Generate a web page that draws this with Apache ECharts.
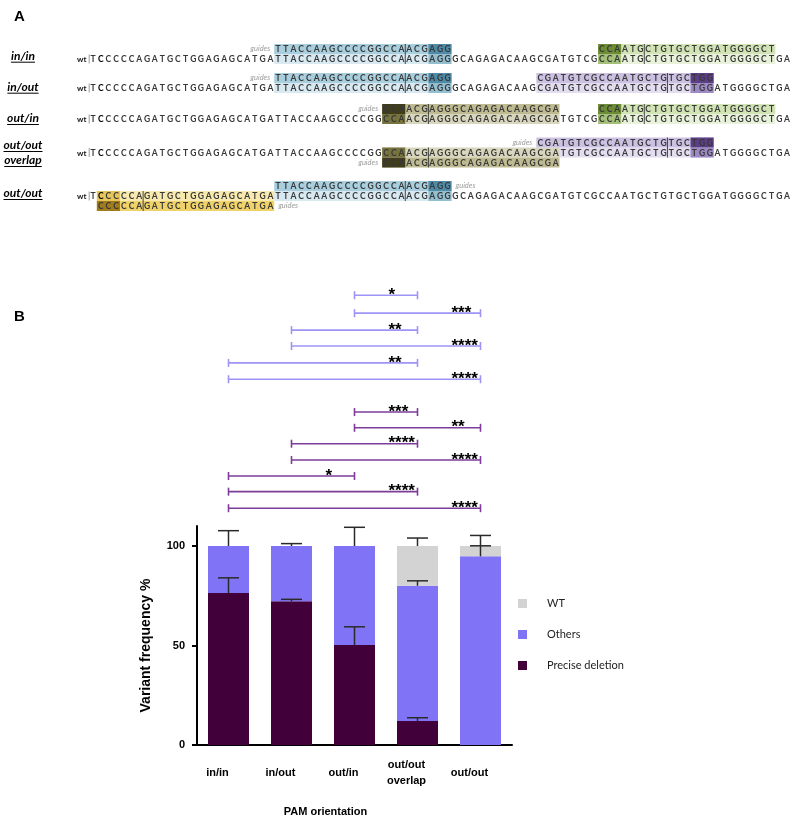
<!DOCTYPE html>
<html><head><meta charset="utf-8">
<script src="https://cdn.jsdelivr.net/npm/echarts@6/dist/echarts.min.js"></script>
<style>html,body{margin:0;padding:0;background:#fff}#chart{width:794px;height:817px}</style>
</head><body><div id="chart"></div>
<script>
// ---------------- Panel B data ----------------
const categories = ['in/in', 'in/out', 'out/in', 'out/out\noverlap', 'out/out'];
const preciseDeletion = [76.4, 72.2, 50.3, 12.1, 0];
const others = [23.6, 27.8, 49.7, 67.9, 94.8];
const wtVariant = [0, 0, 0, 20, 5.2];
const preciseSD = [7.6, 1.0, 9.1, 1.6, 0];
const othersSD = [7.7, 1.2, 9.4, 2.5, 5.3];
const wtSD = [0, 0, 0, 4.0, 5.3];
const yTicks = [0, 50, 100];

// significance comparisons (category index pairs), stars and bracket level (in % units)
const sigFrom = [2, 2, 1, 1, 0, 0, 2, 2, 1, 1, 0, 0, 0];
const sigTo = [3, 4, 3, 4, 3, 4, 3, 4, 3, 4, 2, 3, 4];
const sigStars = ['*', '***', '**', '****', '**', '****', '***', '**', '****', '****', '*', '****', '****'];
const sigLevel = [226, 217, 208.5, 200.5, 192, 183.8, 167.3, 159.4, 151.4, 143.2, 135.2, 127.3, 119];
const sigSeries = ['Others', 'Others', 'Others', 'Others', 'Others', 'Others',
  'Precise deletion', 'Precise deletion', 'Precise deletion', 'Precise deletion', 'Precise deletion', 'Precise deletion', 'Precise deletion'];

// ---------------- Panel A data ----------------
const wtSequence = 'TCCCCCAGATGCTGGAGAGCATGATTACCAAGCCCCGGCCAACGAGGGCAGAGACAAGCGATGTCGCCAATGCTGTGCTGGATGGGGCTGA';
const constructLabels = [['in/in'], ['in/out'], ['out/in'], ['out/out', 'overlap'], ['out/out']];
const guideConstruct = [0, 0, 1, 1, 2, 2, 3, 3, 4, 4];
const guideSide = [-1, -1, -1, -1, -1, -1, -1, 1, -1, 1];
const guideStart = [25, 67, 25, 59, 39, 67, 59, 39, 25, 2];
const guideEnd = [47, 89, 47, 81, 61, 89, 81, 61, 47, 24];
const pamStart = [45, 67, 45, 79, 39, 67, 79, 39, 45, 2];
const pamEnd = [47, 69, 47, 81, 41, 69, 81, 41, 47, 4];
const cutAfter = [41, 72, 41, 75, 44, 72, 75, 44, 41, 7];
const guidePalette = ['blue', 'green', 'blue', 'purple', 'olive', 'green', 'purple', 'olive', 'blue', 'yellow'];
const guideTag = ['left', 'none', 'left', 'none', 'left', 'none', 'left', 'left', 'right', 'right'];

// ---------------- layout / style ----------------
const wtRowUnit = [1, 3.9, 7, 10.35, 14.7];
const labelRowUnit = [[0.67], [3.77], [6.9], [9.6, 11.1], [14.4]];
const palettes = {
  blue: {guide: '#a9cfde', pam: '#4f8ba6', wtLight: '#d8e9f1', wtPam: '#93bfd1'},
  green: {guide: '#d2e4b6', pam: '#6d8c37', wtLight: '#e8f1da', wtPam: '#a5c07a'},
  purple: {guide: '#cbc1e2', pam: '#5b3e84', wtLight: '#e3ddf0', wtPam: '#9d89c3'},
  olive: {guide: '#bebb92', pam: '#403d1d', wtLight: '#d8d6bd', wtPam: '#77733f'},
  yellow: {guide: '#f0d26a', pam: '#a07c1c', wtLight: '#f8e9ae', wtPam: '#e6c658'}
};
const colPrecise = '#42003b', colOthers = '#8073f5', colWT = '#d3d3d3';
const sigColors = {'Others': '#9d94f6', 'Precise deletion': '#7d3c98'};
const seqFont = 'bold 8.5px Lato';
const measureCtx = document.createElement('canvas').getContext('2d');

// Build panel A items
const rectItems = [];
guideConstruct.forEach((c, g) => {
  const p = palettes[guidePalette[g]];
  const wr = wtRowUnit[c];
  rectItems.push({x0: guideStart[g], x1: guideEnd[g], row: wr, fill: p.wtLight});
  rectItems.push({x0: pamStart[g], x1: pamEnd[g], row: wr, fill: p.wtPam});
});
guideConstruct.forEach((c, g) => {
  const p = palettes[guidePalette[g]];
  const gr = wtRowUnit[c] + guideSide[g];
  rectItems.push({x0: guideStart[g], x1: guideEnd[g], row: gr, fill: p.guide});
  rectItems.push({x0: pamStart[g], x1: pamEnd[g], row: gr, fill: p.pam});
});
const seqItems = [];
wtRowUnit.forEach((r) => seqItems.push({row: r, start: 1, text: wtSequence, wt: true}));
guideConstruct.forEach((c, g) => seqItems.push({
  row: wtRowUnit[c] + guideSide[g], start: guideStart[g],
  text: wtSequence.substring(guideStart[g] - 1, guideEnd[g]), wt: false
}));

const chart = echarts.init(document.getElementById('chart'), null, {renderer: 'canvas'});

function errData() {
  const out = [];
  categories.forEach((_, i) => {
    const segs = [[preciseDeletion[i], preciseSD[i]], [preciseDeletion[i] + others[i], othersSD[i]],
      [preciseDeletion[i] + others[i] + wtVariant[i], wtSD[i]]];
    segs.forEach(s => { if (s[1] > 0) out.push([i, s[0], s[0] + s[1]]); });
  });
  return out;
}

const option = {
  animation: false,
  backgroundColor: '#fff',
  title: [
    {text: 'A', left: 9, top: 4, textStyle: {fontFamily: 'Liberation Sans', fontWeight: 'bold', fontSize: 15, color: '#000'}},
    {text: 'B', left: 9, top: 304, textStyle: {fontFamily: 'Liberation Sans', fontWeight: 'bold', fontSize: 15, color: '#000'}}
  ],
  legend: {
    orient: 'vertical', left: 513, top: 593, itemWidth: 9, itemHeight: 9, itemGap: 20, icon: 'rect',
    data: ['WT', 'Others', 'Precise deletion'],
    textStyle: {fontFamily: 'Lato', fontSize: 11, color: '#222', padding: [0, 0, 0, 15]}
  },
  grid: [
    {left: 197, top: 526.1, width: 315, height: 218.9, outerBoundsMode: 'none', containLabel: false},
    {left: 85.29, top: 39, width: 705.5, height: 200, outerBoundsMode: 'none', containLabel: false}
  ],
  xAxis: [
    {
      type: 'category', gridIndex: 0, data: categories,
      axisLine: {lineStyle: {color: '#000', width: 2}},
      axisTick: {alignWithLabel: true, length: 5, lineStyle: {color: '#000', width: 2}},
      axisLabel: {fontFamily: 'Liberation Sans', fontWeight: 'bold', fontSize: 11, color: '#000',
        margin: 28, verticalAlign: 'middle', lineHeight: 16, padding: [0, 22, 0, 0]},
      name: 'PAM orientation', nameLocation: 'middle', nameGap: 61,
      nameTextStyle: {fontFamily: 'Liberation Sans', fontWeight: 'bold', fontSize: 11, color: '#000', padding: [0, 58, 0, 0]}
    },
    {type: 'value', gridIndex: 1, min: 0, max: 91.5, show: false}
  ],
  yAxis: [
    {
      type: 'value', gridIndex: 0, min: 0, max: 110, interval: 50,
      axisLine: {show: true, lineStyle: {color: '#000', width: 2}},
      axisTick: {show: true, length: 5, lineStyle: {color: '#000', width: 2}, customValues: yTicks},
      axisLabel: {fontFamily: 'Liberation Sans', fontWeight: 'bold', fontSize: 11, color: '#000', margin: 12, customValues: yTicks},
      splitLine: {show: false},
      name: 'Variant frequency %', nameLocation: 'middle', nameGap: 44,
      nameTextStyle: {fontFamily: 'Liberation Sans', fontWeight: 'bold', fontSize: 14, color: '#000', padding: [0, 20, 0, 0]}
    },
    {type: 'value', gridIndex: 1, min: -1, max: 19, inverse: true, show: false}
  ],
  series: [
    {name: 'Precise deletion', type: 'bar', stack: 'v', barWidth: 41, data: preciseDeletion, itemStyle: {color: colPrecise}},
    {name: 'Others', type: 'bar', stack: 'v', barWidth: 41, data: others, itemStyle: {color: colOthers}},
    {name: 'WT', type: 'bar', stack: 'v', barWidth: 41, data: wtVariant, itemStyle: {color: colWT}},
    {
      type: 'custom', name: 'errors', xAxisIndex: 0, yAxisIndex: 0, z: 10, clip: false, silent: true,
      data: errData(),
      renderItem: function (params, api) {
        const b = api.coord([api.value(0), api.value(1)]);
        const t = api.coord([api.value(0), api.value(2)]);
        const st = {stroke: '#2a2a2a', lineWidth: 1.5};
        return {type: 'group', children: [
          {type: 'line', shape: {x1: b[0], y1: b[1], x2: t[0], y2: t[1]}, style: st},
          {type: 'line', shape: {x1: t[0] - 10.5, y1: t[1], x2: t[0] + 10.5, y2: t[1]}, style: st}
        ]};
      }
    },
    {
      type: 'custom', name: 'significance', xAxisIndex: 0, yAxisIndex: 0, z: 10, clip: false, silent: true,
      data: sigFrom.map((f, i) => [f, sigTo[i], sigLevel[i]]),
      renderItem: function (params, api) {
        const i = params.dataIndex;
        const a = api.coord([api.value(0), api.value(2)]);
        const b = api.coord([api.value(1), api.value(2)]);
        const st = {stroke: sigColors[sigSeries[i]], lineWidth: 1.6};
        return {type: 'group', children: [
          {type: 'line', shape: {x1: a[0], y1: a[1], x2: b[0], y2: b[1]}, style: st},
          {type: 'line', shape: {x1: a[0], y1: a[1] - 4, x2: a[0], y2: a[1] + 4}, style: st},
          {type: 'line', shape: {x1: b[0], y1: b[1] - 4, x2: b[0], y2: b[1] + 4}, style: st},
          {type: 'text', x: b[0] - 29, y: b[1], style: {text: sigStars[i], fill: '#000',
            font: 'bold 17px "Liberation Sans"', align: 'left', verticalAlign: 'middle'}}
        ]};
      }
    },
    // ---- panel A ----
    {
      type: 'custom', name: 'highlights', xAxisIndex: 1, yAxisIndex: 1, clip: false, silent: true, z: 2,
      data: rectItems.map(r => [r.x0, r.row]),
      renderItem: function (params, api) {
        const r = rectItems[params.dataIndex];
        const p0 = api.coord([r.x0 - 0.5, r.row - 0.5]);
        const p1 = api.coord([r.x1 + 0.5, r.row + 0.5]);
        return {type: 'rect', shape: {x: p0[0], y: p0[1], width: p1[0] - p0[0], height: p1[1] - p0[1]}, style: {fill: r.fill}};
      }
    },
    {
      type: 'custom', name: 'sequences', xAxisIndex: 1, yAxisIndex: 1, clip: false, silent: true, z: 4,
      data: seqItems.map(s => [s.start, s.row]),
      renderItem: function (params, api) {
        const s = seqItems[params.dataIndex];
        const children = [];
        for (let k = 0; k < s.text.length; k++) {
          const p = api.coord([s.start + k, s.row]);
          const boldC = s.wt && k === 1;
          children.push({type: 'text', x: p[0], y: p[1] + 0.5, style: {text: s.text[k],
            fill: boldC ? '#000' : '#383838', font: seqFont, align: 'center', verticalAlign: 'middle'}});
        }
        if (s.wt) {
          const p = api.coord([1, s.row]);
          children.push({type: 'text', x: p[0] - 6.5, y: p[1] + 0.5, style: {text: 'wt', fill: '#111',
            font: 'bold 8px Lato', align: 'right', verticalAlign: 'middle'}});
          const t = api.coord([1, s.row - 0.45]), bt = api.coord([1, s.row + 0.45]);
          children.push({type: 'line', shape: {x1: p[0] - 3.8, y1: t[1], x2: p[0] - 3.8, y2: bt[1]},
            style: {stroke: '#9a9a9a', lineWidth: 1}});
        }
        return {type: 'group', children: children};
      }
    },
    {
      type: 'custom', name: 'cuts', xAxisIndex: 1, yAxisIndex: 1, clip: false, silent: true, z: 5,
      data: cutAfter.map((c, g) => [c, wtRowUnit[guideConstruct[g]]]),
      renderItem: function (params, api) {
        const g = params.dataIndex;
        const wr = wtRowUnit[guideConstruct[g]];
        const gr = wr + guideSide[g];
        const top = Math.min(wr, gr) - 0.5, bot = Math.max(wr, gr) + 0.5;
        const a = api.coord([cutAfter[g] + 0.5, top]);
        const b = api.coord([cutAfter[g] + 0.5, bot]);
        return {type: 'line', shape: {x1: a[0], y1: a[1], x2: b[0], y2: b[1]}, style: {stroke: '#333', lineWidth: 0.9}};
      }
    },
    {
      type: 'custom', name: 'guideTags', xAxisIndex: 1, yAxisIndex: 1, clip: false, silent: true, z: 5,
      data: guideStart.map((s, g) => [s, wtRowUnit[guideConstruct[g]] + guideSide[g]]),
      renderItem: function (params, api) {
        const g = params.dataIndex;
        if (guideTag[g] === 'none') return null;
        const row = wtRowUnit[guideConstruct[g]] + guideSide[g];
        const left = guideTag[g] === 'left';
        const p = api.coord([left ? guideStart[g] - 0.5 : guideEnd[g] + 0.5, row]);
        return {type: 'text', x: left ? p[0] - 4 : p[0] + 4, y: p[1], style: {text: 'guides', fill: '#9c9c9c',
          font: 'italic 7.5px Lato', align: left ? 'right' : 'left', verticalAlign: 'middle'}};
      }
    },
    {
      type: 'custom', name: 'constructLabels', xAxisIndex: 1, yAxisIndex: 1, clip: false, silent: true, z: 5,
      data: constructLabels.map((l, c) => [1, wtRowUnit[c]]),
      renderItem: function (params, api) {
        const c = params.dataIndex;
        const children = [];
        const font = 'bold italic 12px Lato';
        measureCtx.font = font;
        constructLabels[c].forEach((line, j) => {
          const p = api.coord([1, labelRowUnit[c][j]]);
          const cx = p[0] - 70;
          const w = measureCtx.measureText(line).width;
          children.push({type: 'text', x: cx, y: p[1], style: {text: line, fill: '#000', font: font, align: 'center', verticalAlign: 'middle'}});
          children.push({type: 'line', shape: {x1: cx - w / 2, y1: p[1] + 6.5, x2: cx + w / 2, y2: p[1] + 6.5}, style: {stroke: '#000', lineWidth: 1}});
        });
        return {type: 'group', children: children};
      }
    }
  ]
};
chart.setOption(option);
</script></body></html>
